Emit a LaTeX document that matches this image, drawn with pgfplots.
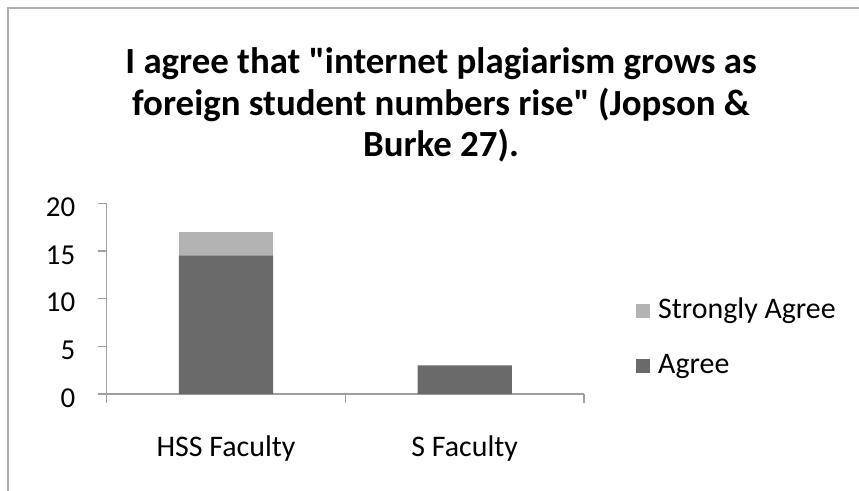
\documentclass[border=0pt]{standalone}
\usepackage{fontspec}
\setmainfont{Carlito}[Ligatures=TeXOff]
\usepackage{pgfplots}
\pgfplotsset{compat=1.18}
\definecolor{agree}{RGB}{106,106,106}
\definecolor{sagree}{RGB}{179,179,179}
\definecolor{axisgray}{RGB}{160,160,160}
\definecolor{framegray}{RGB}{175,175,175}
\begin{document}
\begin{tikzpicture}
\path[use as bounding box] (-106.7bp,-97bp) rectangle (752.3bp,394bp);
\draw[framegray, line width=2bp] (-98.7bp,-97bp) -- (-98.7bp,386bp) -- (752.3bp,386bp);
\node[font=\bfseries\fontsize{37}{42}\selectfont, align=center] at (334.3bp,289bp)
  {I agree that "internet plagiarism grows as\\foreign student numbers rise" (Jopson \&\\Burke 27).};
\begin{axis}[
  at={(0,0)}, anchor=south west,
  scale only axis, width=477.3bp, height=190.7bp,
  ybar stacked, bar width=94.3bp,
  xmin=-0.5, xmax=1.5, ymin=0, ymax=20,
  ytick={0,5,10,15,20},
  xtick={-0.5,0.5,1.5}, xticklabels={},
  extra x ticks={0,1}, extra x tick labels={HSS Faculty, S Faculty},
  extra x tick style={major tick length=0pt, tick label style={yshift=-38bp}},
  axis lines*=left,
  tick align=outside, major tick length=9bp,
  axis line style={axisgray, line width=1.3bp},
  every tick/.style={axisgray, line width=1.3bp},
  tick label style={font=\fontsize{30}{36}\selectfont, black},
  yticklabel style={font=\fontsize{29}{34}\selectfont, xshift=-19bp, yshift=-4bp},
  /pgf/number format/assume math mode=true,
  legend style={draw=none, fill=none, at={(1.1027,0.29)}, anchor=west,
    font=\fontsize{30}{36}\selectfont, row sep=29bp,
    cells={anchor=west},
    nodes={inner sep=0pt, text height=20bp, text depth=6bp},
    /tikz/every odd column/.style={column sep=8bp}},
  reverse legend,
  legend image code/.code={\path[#1] (0bp,-7bp) rectangle (14bp,7bp);},
]
\addplot[fill=agree, draw=none] coordinates {(0,14.5) (1,3)};
\addlegendentry{Agree}
\addplot[fill=sagree, draw=none] coordinates {(0,2.5) (1,0)};
\addlegendentry{Strongly Agree}
\end{axis}
\end{tikzpicture}
\end{document}
